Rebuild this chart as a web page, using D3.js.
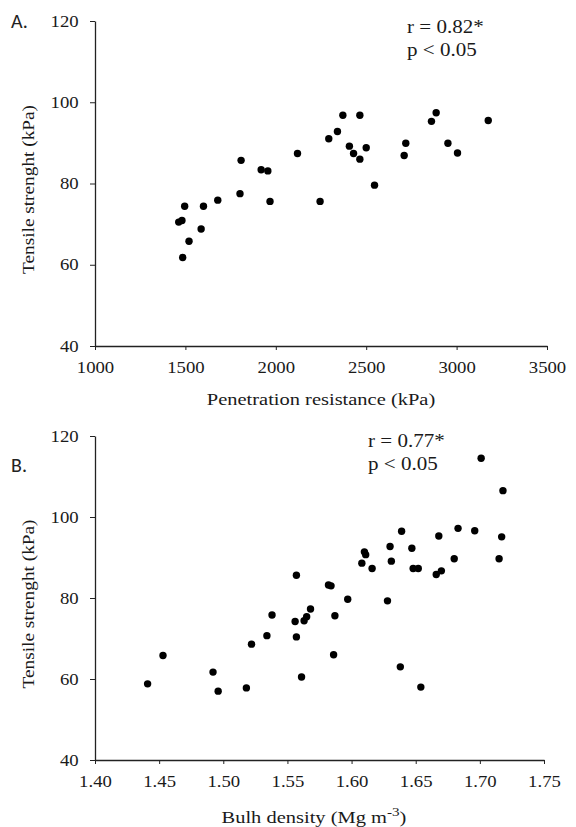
<!DOCTYPE html>
<html>
<head>
<meta charset="utf-8">
<script src="https://cdn.jsdelivr.net/npm/d3@7"></script>
<style>
  body { margin: 0; background: #fff; }
  svg { display: block; }
</style>
</head>
<body>
<div id="chart"></div>
<script>
// panel A: penetration resistance vs tensile strength
const penResist = [1463, 1481, 1496, 1485, 1520, 1587, 1600, 1679, 1802, 1808, 1919, 1956, 1968, 2120, 2245,
    2293, 2341, 2371, 2407, 2430, 2465, 2465, 2500, 2546, 2710, 2719, 2861, 2887, 2952, 3005, 3175];
const tensileA = [70.5, 70.9, 74.4, 61.8, 65.8, 68.8, 74.4, 75.9, 77.5, 85.7, 83.4, 83.1, 75.6, 87.4, 75.6,
    91.0, 92.8, 96.8, 89.2, 87.4, 86.0, 96.8, 88.8, 79.6, 86.9, 89.9, 95.3, 97.4, 89.9, 87.5, 95.5];

// panel B: bulk density vs tensile strength
const bulkDensity = [1.701, 1.718, 1.639, 1.683, 1.696, 1.668, 1.717, 1.610, 1.611, 1.630, 1.647, 1.608, 1.616,
    1.631, 1.648, 1.652, 1.666, 1.670, 1.680, 1.715, 1.557, 1.582, 1.584, 1.597, 1.628, 1.538, 1.568, 1.587,
    1.565, 1.556, 1.563, 1.534, 1.557, 1.522, 1.453, 1.586, 1.492, 1.638, 1.441, 1.496, 1.518, 1.561, 1.654];
const tensileB = [114.5, 106.5, 96.5, 97.2, 96.6, 95.3, 95.1, 91.4, 90.7, 92.7, 92.3, 88.6, 87.3,
    89.1, 87.3, 87.3, 85.8, 86.7, 89.7, 89.7, 85.6, 83.2, 83.0, 79.7, 79.3, 75.8, 77.3, 75.6,
    75.4, 74.2, 74.4, 70.7, 70.4, 68.6, 65.8, 66.0, 61.7, 63.0, 58.8, 57.0, 57.8, 60.5, 58.0];

const yTicks = [40, 60, 80, 100, 120];
const xTicksA = [1000, 1500, 2000, 2500, 3000, 3500];
const xTicksB = [1.40, 1.45, 1.50, 1.55, 1.60, 1.65, 1.70, 1.75];

const W = 576, H = 827;
const serif = "'Liberation Serif', 'Times New Roman', serif";
const ink = "#1a1a1a";
const stretch = 1.17;   // the original's text is a bit wide

const svg = d3.select("#chart").append("svg")
    .attr("width", W)
    .attr("height", H);

// text placed at (x,y) and stretched horizontally
function wideText(parent, x, y, size, rotate) {
    const holder = parent.append("g")
        .attr("transform", `translate(${x},${y})` + (rotate ? ` rotate(${rotate})` : "") + ` scale(${stretch},1)`);
    return holder.append("text")
        .attr("font-family", serif)
        .attr("font-size", size)
        .attr("fill", ink);
}

function drawPanel(cfg) {
    const g = svg.append("g");

    const x = d3.scaleLinear().domain(cfg.xDomain).range([cfg.left, cfg.right]);
    const y = d3.scaleLinear().domain([40, 120]).range([cfg.bottom, cfg.top]);

    const xAxis = g.append("g")
        .attr("transform", `translate(0,${cfg.bottom})`)
        .call(d3.axisBottom(x).tickValues(cfg.xTicks).tickFormat(cfg.xFormat).tickSize(4).tickSizeOuter(0).tickPadding(9));

    const yAxis = g.append("g")
        .attr("transform", `translate(${cfg.left},0)`)
        .call(d3.axisLeft(y).tickValues(yTicks).tickSize(5).tickSizeOuter(0).tickPadding(9));

    [xAxis, yAxis].forEach(ax => {
        ax.select(".domain").attr("stroke", "#222").attr("stroke-width", 1.3);
        ax.selectAll(".tick line").attr("stroke", "#222");
        ax.selectAll(".tick text")
            .attr("font-family", serif)
            .attr("font-size", 16)
            .attr("fill", ink)
            .attr("transform", `scale(${stretch},1)`);
    });
    xAxis.selectAll(".tick text").attr("dy", "0.85em");

    // dots
    g.append("g")
        .selectAll("circle")
        .data(cfg.xs.map((d, i) => [d, cfg.ys[i]]))
        .join("circle")
        .attr("cx", d => x(d[0]))
        .attr("cy", d => y(d[1]))
        .attr("r", 3.7)
        .attr("fill", "#000");

    // panel letter
    g.append("text")
        .attr("x", 11)
        .attr("y", cfg.letterY)
        .attr("font-family", "Carlito, 'Liberation Sans', Arial, sans-serif")
        .attr("font-size", 20)
        .attr("fill", "#222")
        .text(cfg.letter);

    // y title
    wideText(g, 34, (cfg.top + cfg.bottom) / 2 + 6, 16.5, -90)
        .attr("text-anchor", "middle")
        .text("Tensile strenght (kPa)");

    // x title
    const xt = wideText(g, cfg.xTitleX, cfg.xTitleY, 17.5)
        .attr("text-anchor", "middle");
    xt.append("tspan").text(cfg.xTitle);
    if (cfg.xSup) {
        xt.append("tspan").attr("dy", -7).attr("font-size", 13).text(cfg.xSup);
        xt.append("tspan").attr("dy", 7).text(")");
    }

    // stats note
    const note = wideText(g, cfg.noteX, cfg.noteY, 18);
    note.append("tspan").attr("x", 0).attr("y", 0).text(cfg.r);
    note.append("tspan").attr("x", 0).attr("y", 23).text("p < 0.05");
}

drawPanel({
    xs: penResist, ys: tensileA,
    xDomain: [1000, 3500], xTicks: xTicksA, xFormat: d3.format("d"),
    left: 95, right: 547, top: 21, bottom: 346,
    letter: "A.", letterY: 28,
    xTitle: "Penetration resistance (kPa)", xTitleX: 321, xTitleY: 405,
    r: "r = 0.82*", noteX: 407, noteY: 33
});

drawPanel({
    xs: bulkDensity, ys: tensileB,
    xDomain: [1.40, 1.75], xTicks: xTicksB, xFormat: d3.format(".2f"),
    left: 95, right: 544, top: 436, bottom: 760,
    letter: "B.", letterY: 472,
    xTitle: "Bulh density (Mg m", xSup: "-3", xTitleX: 314, xTitleY: 823,
    r: "r = 0.77*", noteX: 368, noteY: 447
});
</script>
</body>
</html>
